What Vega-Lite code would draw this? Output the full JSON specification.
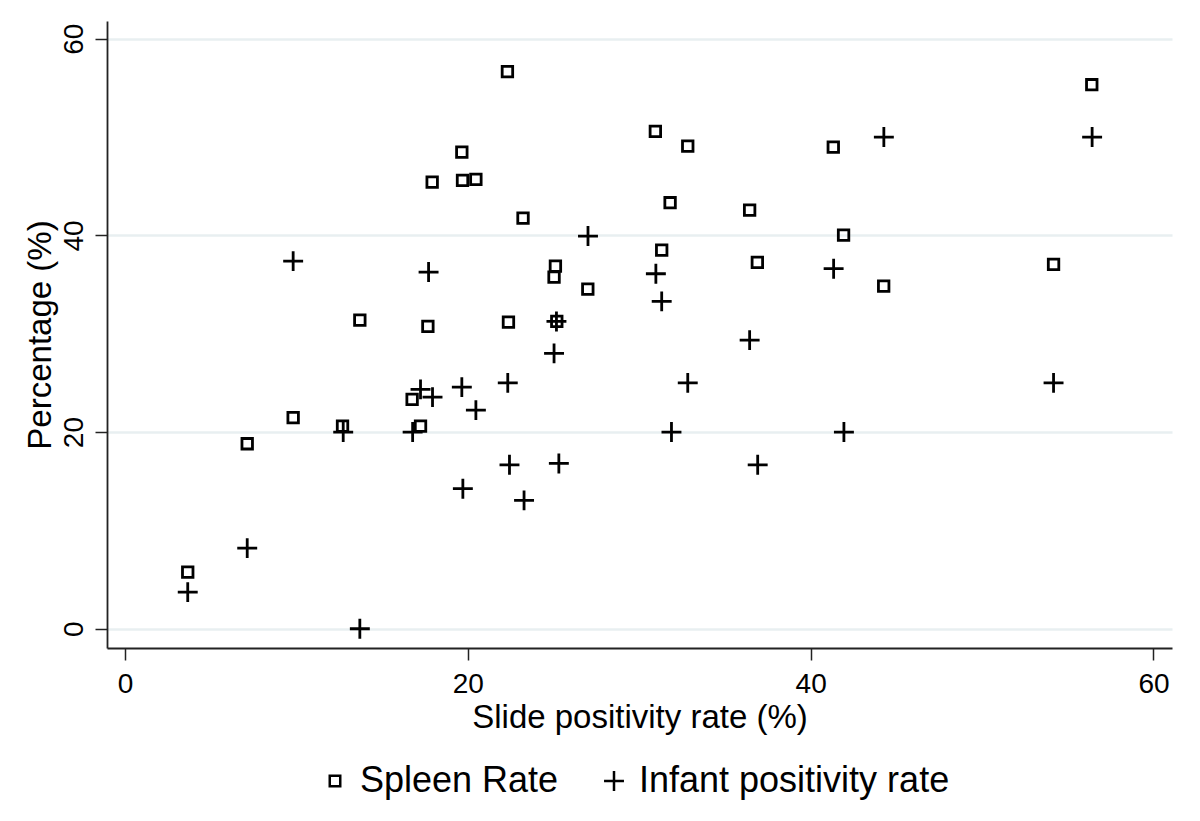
{
  "$schema": "https://vega.github.io/schema/vega-lite/v6.json",
  "width": 1065,
  "height": 627,
  "autosize": {"type": "none"},
  "padding": {"left": 107, "top": 21, "right": 28, "bottom": 173},
  "background": "white",
  "config": {"view": {"stroke": null}, "font": "Liberation Sans"},
  "data": {"values": [
    {"spr": 22.31, "pct": 56.65, "series": "Spleen Rate"},
    {"spr": 56.40, "pct": 55.32, "series": "Spleen Rate"},
    {"spr": 30.94, "pct": 50.57, "series": "Spleen Rate"},
    {"spr": 32.83, "pct": 49.08, "series": "Spleen Rate"},
    {"spr": 19.65, "pct": 48.47, "series": "Spleen Rate"},
    {"spr": 41.32, "pct": 48.98, "series": "Spleen Rate"},
    {"spr": 17.92, "pct": 45.42, "series": "Spleen Rate"},
    {"spr": 19.69, "pct": 45.59, "series": "Spleen Rate"},
    {"spr": 20.47, "pct": 45.69, "series": "Spleen Rate"},
    {"spr": 31.80, "pct": 43.32, "series": "Spleen Rate"},
    {"spr": 36.44, "pct": 42.57, "series": "Spleen Rate"},
    {"spr": 23.22, "pct": 41.76, "series": "Spleen Rate"},
    {"spr": 41.92, "pct": 40.03, "series": "Spleen Rate"},
    {"spr": 31.31, "pct": 38.50, "series": "Spleen Rate"},
    {"spr": 54.17, "pct": 37.05, "series": "Spleen Rate"},
    {"spr": 36.89, "pct": 37.25, "series": "Spleen Rate"},
    {"spr": 25.11, "pct": 36.88, "series": "Spleen Rate"},
    {"spr": 25.03, "pct": 35.76, "series": "Spleen Rate"},
    {"spr": 27.00, "pct": 34.54, "series": "Spleen Rate"},
    {"spr": 44.26, "pct": 34.84, "series": "Spleen Rate"},
    {"spr": 13.70, "pct": 31.38, "series": "Spleen Rate"},
    {"spr": 17.67, "pct": 30.74, "series": "Spleen Rate"},
    {"spr": 22.37, "pct": 31.18, "series": "Spleen Rate"},
    {"spr": 25.19, "pct": 31.25, "series": "Spleen Rate"},
    {"spr": 9.81, "pct": 21.46, "series": "Spleen Rate"},
    {"spr": 7.13, "pct": 18.81, "series": "Spleen Rate"},
    {"spr": 12.69, "pct": 20.60, "series": "Spleen Rate"},
    {"spr": 17.24, "pct": 20.60, "series": "Spleen Rate"},
    {"spr": 16.75, "pct": 23.32, "series": "Spleen Rate"},
    {"spr": 3.66, "pct": 5.76, "series": "Spleen Rate"},
    {"spr": 9.81, "pct": 37.38, "series": "Infant positivity rate"},
    {"spr": 27.01, "pct": 39.93, "series": "Infant positivity rate"},
    {"spr": 44.27, "pct": 50.0, "series": "Infant positivity rate"},
    {"spr": 56.42, "pct": 50.0, "series": "Infant positivity rate"},
    {"spr": 17.71, "pct": 36.27, "series": "Infant positivity rate"},
    {"spr": 30.97, "pct": 36.1, "series": "Infant positivity rate"},
    {"spr": 41.34, "pct": 36.61, "series": "Infant positivity rate"},
    {"spr": 31.31, "pct": 33.29, "series": "Infant positivity rate"},
    {"spr": 25.17, "pct": 31.25, "series": "Infant positivity rate"},
    {"spr": 25.03, "pct": 28.0, "series": "Infant positivity rate"},
    {"spr": 36.44, "pct": 29.35, "series": "Infant positivity rate"},
    {"spr": 17.24, "pct": 24.34, "series": "Infant positivity rate"},
    {"spr": 17.94, "pct": 23.55, "series": "Infant positivity rate"},
    {"spr": 19.65, "pct": 24.57, "series": "Infant positivity rate"},
    {"spr": 22.33, "pct": 25.0, "series": "Infant positivity rate"},
    {"spr": 20.47, "pct": 22.23, "series": "Infant positivity rate"},
    {"spr": 32.83, "pct": 25.0, "series": "Infant positivity rate"},
    {"spr": 54.17, "pct": 25.0, "series": "Infant positivity rate"},
    {"spr": 12.73, "pct": 20.0, "series": "Infant positivity rate"},
    {"spr": 16.78, "pct": 20.0, "series": "Infant positivity rate"},
    {"spr": 31.88, "pct": 20.0, "series": "Infant positivity rate"},
    {"spr": 41.94, "pct": 20.0, "series": "Infant positivity rate"},
    {"spr": 22.43, "pct": 16.67, "series": "Infant positivity rate"},
    {"spr": 25.31, "pct": 16.81, "series": "Infant positivity rate"},
    {"spr": 36.91, "pct": 16.67, "series": "Infant positivity rate"},
    {"spr": 19.71, "pct": 14.24, "series": "Infant positivity rate"},
    {"spr": 23.28, "pct": 13.05, "series": "Infant positivity rate"},
    {"spr": 7.13, "pct": 8.2, "series": "Infant positivity rate"},
    {"spr": 3.66, "pct": 3.72, "series": "Infant positivity rate"},
    {"spr": 13.70, "pct": 0.0, "series": "Infant positivity rate"}
  ]},
  "mark": {"type": "point", "filled": false, "strokeWidth": 2.8, "color": "black", "opacity": 1, "size": 110},
  "encoding": {
    "x": {
      "field": "spr", "type": "quantitative",
      "scale": {"domain": [-1.05, 61.08], "nice": false, "zero": false},
      "axis": {
        "values": [0, 20, 40, 60], "title": "Slide positivity rate (%)", "grid": false,
        "domainColor": "#222", "domainWidth": 1.8, "tickColor": "#222", "tickWidth": 1.5, "tickSize": 12,
        "labelFontSize": 28, "labelColor": "black", "labelPadding": 10, "labelFlush": false, "labelOverlap": false,
        "titleFontSize": 33, "titleFontWeight": "normal", "titleColor": "black", "titlePadding": 3
      }
    },
    "y": {
      "field": "pct", "type": "quantitative",
      "scale": {"domain": [-1.96, 61.8], "nice": false, "zero": false},
      "axis": {
        "values": [0, 20, 40, 60], "title": "Percentage (%)", "grid": true, "gridColor": "#e8eff1", "gridWidth": 2.5,
        "domainColor": "#222", "domainWidth": 1.8, "tickColor": "#222", "tickWidth": 1.5, "tickSize": 12,
        "labelFontSize": 28, "labelColor": "black", "labelPadding": 7, "labelFlush": false, "labelOverlap": false,
        "labelAngle": -90, "labelAlign": "center", "labelBaseline": "bottom",
        "titleFontSize": 33, "titleFontWeight": "normal", "titleColor": "black", "titlePadding": 3
      }
    },
    "shape": {
      "field": "series", "type": "nominal",
      "scale": {"domain": ["Spleen Rate", "Infant positivity rate"], "range": ["square", "M-1.9,0L1.9,0M0,-1.9L0,1.9"]},
      "legend": {
        "title": null, "orient": "none", "direction": "horizontal", "legendX": 210, "legendY": 742,
        "padding": 0, "labelFontSize": 36, "labelColor": "black", "labelOffset": 7, "columnPadding": 37, "labelLimit": 0,
        "symbolSize": 110, "symbolStrokeColor": "black", "symbolStrokeWidth": 2.5, "symbolFillColor": "transparent"
      }
    }
  }
}
